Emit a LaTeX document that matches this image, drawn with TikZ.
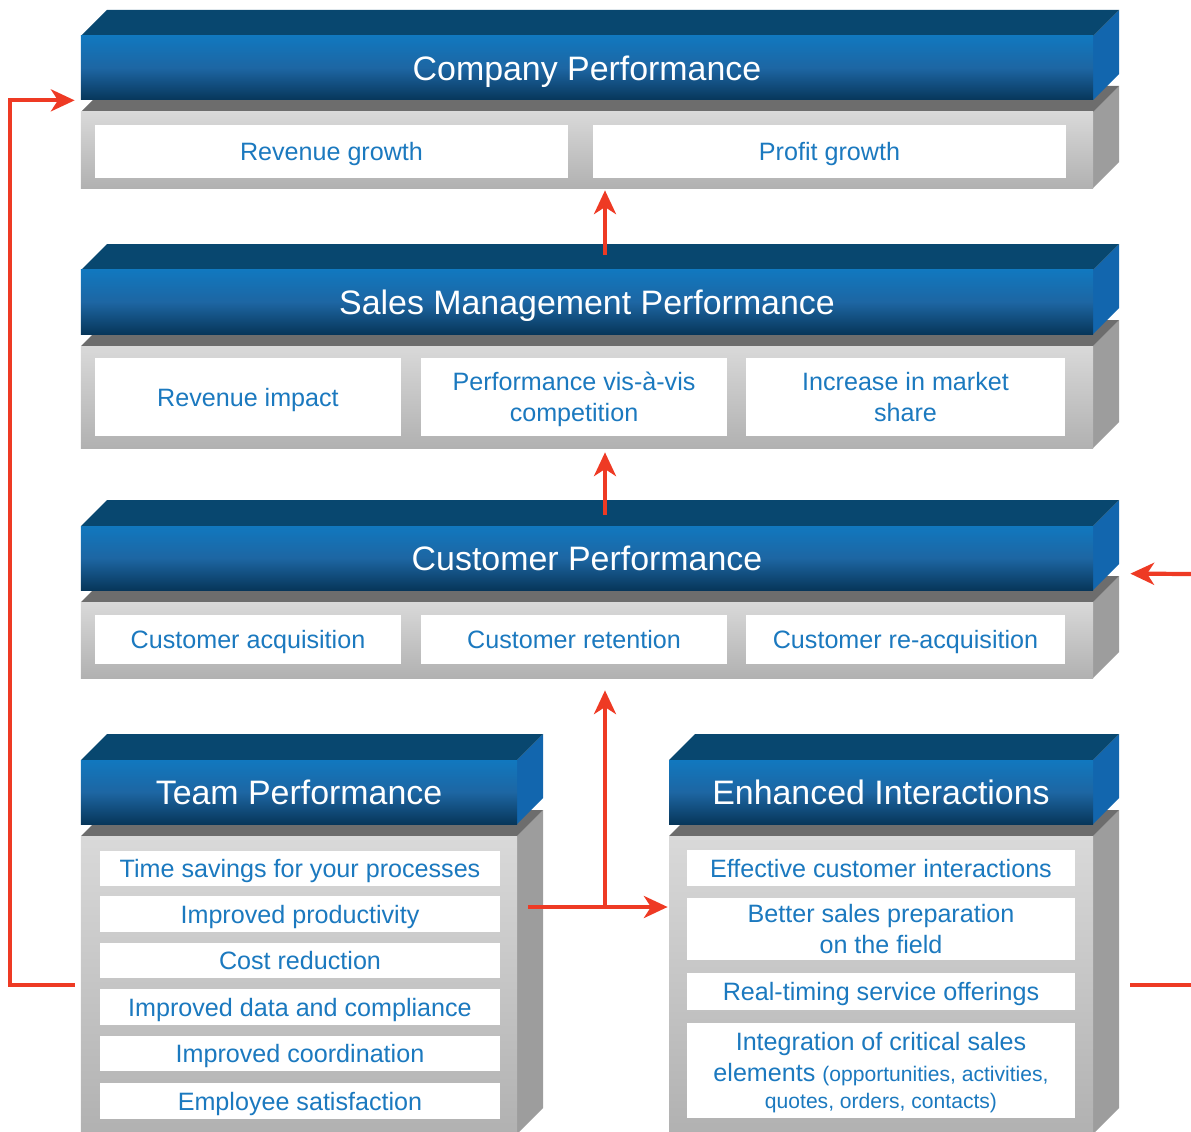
\documentclass[tikz,border=0pt]{standalone}
\usepackage{fontspec}
\setmainfont{Liberation Sans}
\usetikzlibrary{arrows.meta,calc}

\definecolor{lidlight}{HTML}{1178BF}
\definecolor{lidmid}{HTML}{1D66A3}
\definecolor{liddark}{HTML}{07365A}
\definecolor{lidtop}{HTML}{08476F}
\definecolor{lidside}{HTML}{1266AE}
\definecolor{baselight}{HTML}{D9D9D9}
\definecolor{basedark}{HTML}{B1B1B1}
\definecolor{basetopc}{HTML}{6D6D6D}
\definecolor{basesidec}{HTML}{9D9D9D}
\definecolor{itemtext}{HTML}{1B79BF}
\definecolor{flowred}{HTML}{EE3A24}

\tikzset{
  slabfront/.style={inner sep=0, top color=lidlight, bottom color=liddark, middle color=lidmid,
    text=white, text depth=0pt, font=\fontsize{19.3}{23}\selectfont},
  slabtop/.style={fill=lidtop},
  slabside/.style={fill=lidside},
  basefront/.style={inner sep=0, top color=baselight, bottom color=basedark},
  basetop/.style={fill=basetopc},
  baseside/.style={fill=basesidec},
  item/.style={fill=white, inner sep=0, text=itemtext, align=center, text depth=0pt,
    font=\fontsize{14.3}{17.6}\selectfont},
  flowline/.style={draw=flowred, line width=2.4pt},
  flow/.style={flowline, -{Stealth[length=13.5pt,width=12.5pt,inset=4pt]}}
}

% rectangle node spanning (#3,#4)--(#5,#6) in pixel units
\newcommand{\cell}[7]{%
  \pgfmathsetmacro\cellw{((#5)-(#3))*0.02}%
  \pgfmathsetmacro\cellh{((#6)-(#4))*0.02}%
  \node[#1, minimum width=\cellw cm, minimum height=\cellh cm] (#2) at ({((#3)+(#5))/2},{((#4)+(#6))/2}) {#7};
}

% one level: grey base with a blue lid on top (depth 26)
% #1 name, #2 left, #3 lid top, #4 right, #5 base bottom, #6 title
\newcommand{\slab}[6]{%
  \fill[baseside] (#4,#3+76) -- ++(26,-26) -- (#4+26,#5-26) -- (#4,#5) -- cycle;
  \fill[basetop] (#2,#3+76) -- ++(26,-26) -- (#4+26,#3+50) -- (#4,#3+76) -- cycle;
  \cell{basefront}{#1base}{#2}{#3+76}{#4}{#5}{}
  \fill[slabside] (#4,#3) -- ++(26,-26) -- ++(0,64) -- ++(-26,26) -- cycle;
  \fill[slabtop] (#2,#3) -- ++(26,-26) -- (#4+26,#3-26) -- (#4,#3) -- cycle;
  \cell{slabfront}{#1}{#2}{#3}{#4}{#3+64}{#6}
}

\begin{document}
\begin{tikzpicture}[x=0.02cm, y=-0.02cm]
\useasboundingbox (0,0) rectangle (1191,1132);

\slab{company}{81}{36}{1093}{188}{Company Performance}
\cell{item}{revgrowth}{95}{125}{568}{178}{Revenue growth}
\cell{item}{profit}{593}{125}{1066}{178}{Profit growth}

\slab{sales}{81}{270}{1093}{448}{Sales Management Performance}
\cell{item}{revimpact}{95}{358}{401}{436}{Revenue impact}
\cell{item}{competition}{421}{358}{727}{436}{Performance vis-à-vis\\competition}
\cell{item}{market}{746}{358}{1065}{436}{Increase in market\\share}

\slab{customer}{81}{526}{1093}{678}{Customer Performance}
\cell{item}{acquire}{95}{615}{401}{664}{Customer acquisition}
\cell{item}{retain}{421}{615}{727}{664}{Customer retention}
\cell{item}{reacquire}{746}{615}{1065}{664}{Customer re-acquisition}

\slab{team}{81}{760}{517}{1134}{Team Performance}
\cell{item}{timesave}{100}{851}{500}{886}{Time savings for your processes}
\cell{item}{productivity}{100}{896}{500}{932}{Improved productivity}
\cell{item}{cost}{100}{943}{500}{978}{Cost reduction}
\cell{item}{compliance}{100}{989}{500}{1025}{Improved data and compliance}
\cell{item}{coordination}{100}{1036}{500}{1071}{Improved coordination}
\cell{item}{satisfaction}{100}{1083}{500}{1119}{Employee satisfaction}

\slab{interact}{669}{760}{1093}{1134}{Enhanced Interactions}
\cell{item}{effective}{687}{850}{1075}{886}{Effective customer interactions}
\cell{item}{preparation}{687}{898}{1075}{960}{Better sales preparation\\on the field}
\cell{item}{realtime}{687}{973}{1075}{1010}{Real-timing service offerings}
\cell{item}{integration}{687}{1023}{1075}{1118}{Integration of critical sales\\elements {\fontsize{12}{14}\selectfont(opportunities, activities,}\\[-2pt]{\fontsize{12}{14}\selectfont quotes, orders, contacts)}}

% upward flow between levels
\draw[flow] ($(sales.north)+(18,-15)$) -- ($(companybase.south)+(18,2)$);
\draw[flow] ($(customer.north)+(18,-11)$) -- ($(salesbase.south)+(18,4)$);
\coordinate (split) at (605,907);
\draw[flow] (split) -- ($(customerbase.south)+(18,12)$);
\draw[flow] ($(teambase.east |- split)+(11,0)$) -- ($(interactbase.west |- split)+(-1,0)$);
% feedback loops at the sides
\draw[flow] ($(teambase.west)+(-6,0)$) -- ++(-65,0) |- ($(company.south west)+(-6,0)$);
\coordinate (loopin) at (1191,574);
\draw[flow] (loopin) -- ($(customerbase.north east)+(37,-28)$);
\draw[flowline] ($(interactbase.east)+(37,0)$) -- ++(61,0);
\end{tikzpicture}
\end{document}
